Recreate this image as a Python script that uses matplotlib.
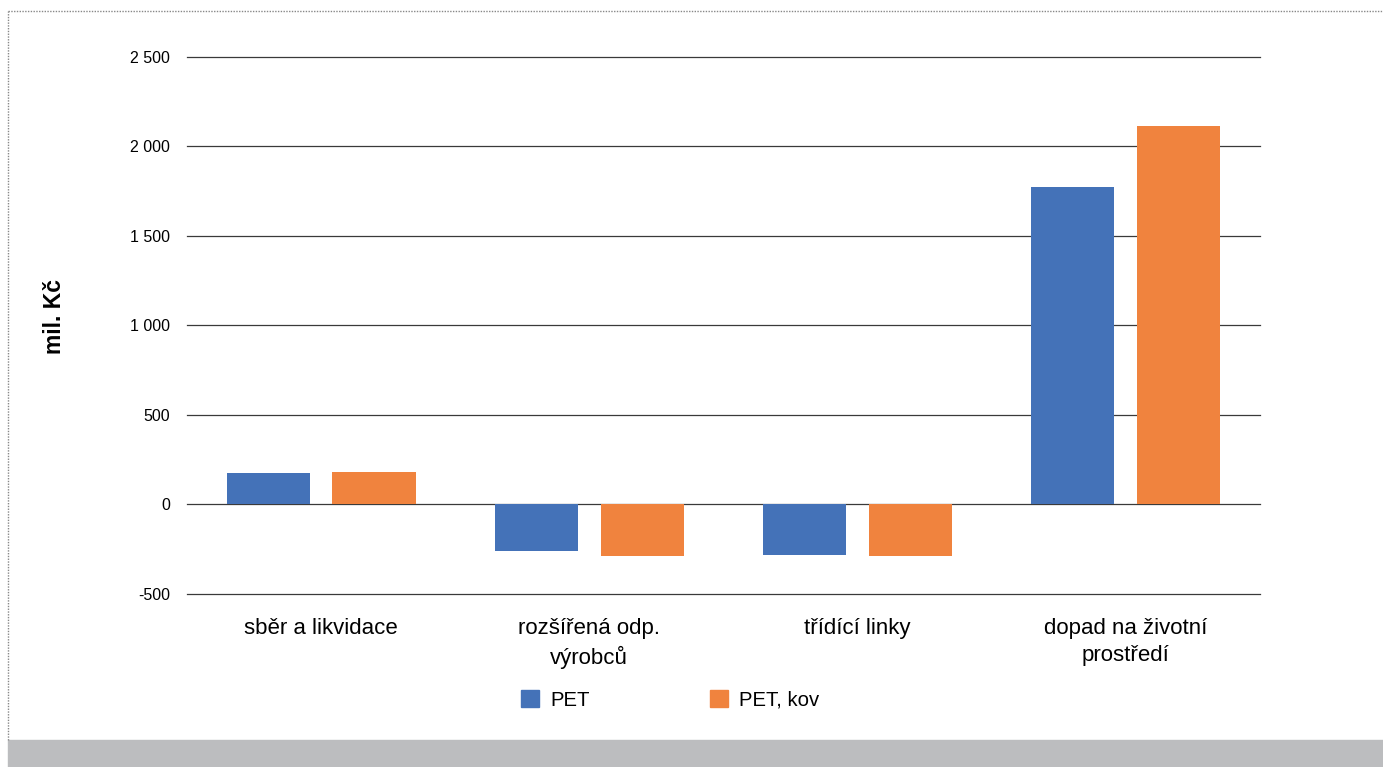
import numpy as np
from matplotlib import pyplot as plt
import matplotlib
from matplotlib.patches import Rectangle
from matplotlib.lines import Line2D

matplotlib.rcParams['font.family'] = ['Liberation Sans', 'DejaVu Sans']

# data
categories = ['sběr a likvidace', 'rozšířená odp.\nvýrobců', 'třídící linky', 'dopad na životní\nprostředí']
pet = [177, -262, -285, 1771]
pet_kov = [183, -287, -287, 2112]
series_names = ['PET', 'PET, kov']
colors = ['#4472b8', '#f0833e']
y_ticks = [-500, 0, 500, 1000, 1500, 2000, 2500]
y_labels = ['-500', '0', '500', '1 000', '1 500', '2 000', '2 500']

fig = plt.figure(figsize=(13.83, 7.67), dpi=100)
ax = fig.add_axes([0.1352, 0.2256, 0.7758, 0.7001])

x = np.arange(len(categories))
w = 0.31
ax.bar(x - 0.1975, pet, w, color=colors[0], zorder=3)
ax.bar(x + 0.1975, pet_kov, w, color=colors[1], zorder=3)

ax.set_xlim(-0.5, len(categories) - 0.5)
ax.set_ylim(-500, 2500)
ax.set_yticks(y_ticks)
ax.set_yticklabels(y_labels, fontsize=11.5)
ax.yaxis.grid(True, color='#3a3a3a', linewidth=0.9, zorder=1)
for gl in ax.get_ygridlines():
    gl.set_clip_on(False)
ax.tick_params(axis='y', length=0, pad=12)
ax.set_xticks(x)
ax.set_xticklabels(categories, fontsize=16, linespacing=1.42)
ax.tick_params(axis='x', length=0, pad=17)
for s in ax.spines.values():
    s.set_visible(False)
fig.text(55 / 1383, 1 - 316 / 767, 'mil. Kč', fontsize=16.5, fontweight='bold',
         rotation=90, ha='center', va='center')

# legend
handles = [Rectangle((0, 0), 1, 1, color=c) for c in colors]
fig.legend(handles, series_names, loc='center', bbox_to_anchor=(0.4845, 0.0873), ncol=2,
           frameon=False, fontsize=14.6, handlelength=0.89, handleheight=0.89,
           handletextpad=0.54, columnspacing=5.9)

# frame: dotted border and grey band
fig.add_artist(Line2D([8 / 1383, 8 / 1383], [27 / 767, 1 - 11 / 767], color='#888888',
                      linestyle=(0, (1, 1)), linewidth=1))
fig.add_artist(Line2D([8 / 1383, 1], [1 - 11 / 767, 1 - 11 / 767], color='#888888',
                      linestyle=(0, (1, 1)), linewidth=1))
fig.add_artist(Rectangle((8 / 1383, 0), 1, 27 / 767, color='#bcbdbf',
                         transform=fig.transFigure))

plt.savefig('out.png', dpi=100)
